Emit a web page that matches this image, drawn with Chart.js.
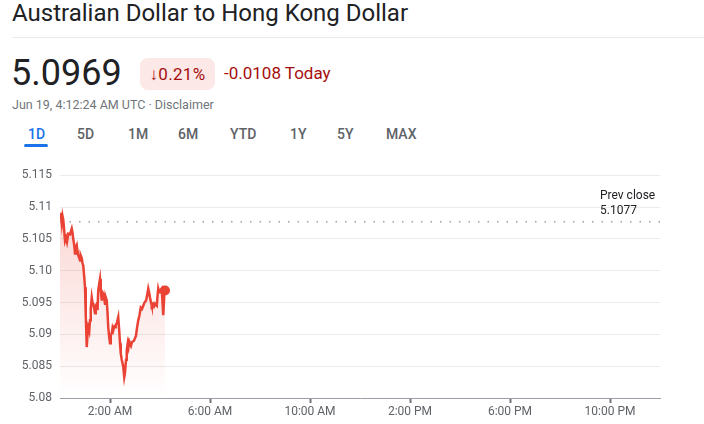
<!DOCTYPE html>
<html lang="en">
<head>
  <meta charset="UTF-8">
  <title>AUD to HKD</title>
  <script src="https://cdn.jsdelivr.net/npm/chart.js"></script>
  <style>
    body { margin: 0; width: 704px; height: 424px; overflow: hidden; background: #fff; font-family: Roboto, Arial, sans-serif; position: relative; }
    .title { position: absolute; left: 12px; top: -1px; font-size: 24px; color: #202124; }
    .rule { position: absolute; left: 12px; right: 0; top: 37px; border-top: 1px solid #e8eaed; }
    .price { position: absolute; left: 11px; top: 52px; font-size: 36px; color: #202124; }
    .badge { position: absolute; left: 140px; top: 58px; width: 75px; height: 32px; border-radius: 8px; background: #fce8e6; color: #a50e0e; font-size: 17px; letter-spacing: 0.3px; line-height: 32px; text-align: center; }
    .change { position: absolute; left: 224px; top: 63px; font-size: 17px; color: #a50e0e; }
    .stamp { position: absolute; left: 12px; top: 97px; font-size: 12.5px; color: #70757a; }
    .tabs span { position: absolute; top: 126px; font-size: 14px; font-weight: 500; color: #5f6368; }
    .tabs span.on { color: #1a73e8; }
    .uline { position: absolute; left: 24px; top: 144px; width: 24px; height: 3px; border-radius: 2px; background: #1a73e8; }
    #wrap { position: absolute; left: 0; top: 160px; width: 704px; height: 264px; }
  </style>
</head>
<body>
  <div class="title">Australian Dollar to Hong Kong Dollar</div>
  <div class="rule"></div>
  <div class="price">5.0969</div>
  <div class="badge">&darr;0.21%</div>
  <div class="change">-0.0108 Today</div>
  <div class="stamp">Jun 19, 4:12:24 AM UTC · Disclaimer</div>
  <div class="tabs">
    <span class="on" style="left:28px">1D</span>
    <span style="left:77px">5D</span>
    <span style="left:128px">1M</span>
    <span style="left:178px">6M</span>
    <span style="left:230px">YTD</span>
    <span style="left:290px">1Y</span>
    <span style="left:337px">5Y</span>
    <span style="left:386px">MAX</span>
  </div>
  <div class="uline"></div>
  <div id="wrap"><canvas id="rateChart"></canvas></div>

  <script>
    // hours after midnight UTC
    const times = [
      0, 0.03, 0.07, 0.10, 0.13, 0.17, 0.20, 0.24, 0.28, 0.33, 0.40, 0.47, 0.50, 0.53, 0.57, 0.60,
      0.63, 0.67, 0.70, 0.73, 0.77, 0.80, 0.83, 0.87, 0.90, 0.93, 0.97, 1.00, 1.03, 1.07, 1.10, 1.13,
      1.17, 1.20, 1.23, 1.27, 1.30, 1.33, 1.37, 1.40, 1.43, 1.47, 1.50, 1.53, 1.57, 1.60, 1.63, 1.67,
      1.70, 1.73, 1.77, 1.80, 1.83, 1.87, 1.90, 1.93, 1.97, 2.00, 2.03, 2.07, 2.10, 2.13, 2.17, 2.20,
      2.23, 2.27, 2.30, 2.33, 2.37, 2.40, 2.43, 2.47, 2.50, 2.53, 2.57, 2.60, 2.64, 2.67, 2.71, 2.74,
      2.77, 2.80, 2.84, 2.88, 2.91, 2.96, 3.00, 3.04, 3.08, 3.13, 3.18, 3.23, 3.28, 3.33, 3.38, 3.44,
      3.48, 3.53, 3.57, 3.60, 3.64, 3.67, 3.72, 3.76, 3.80, 3.84, 3.87, 3.90, 3.93, 3.97, 4.00, 4.03,
      4.07, 4.10, 4.13, 4.17, 4.20
    ];
    const rates = [
      5.1082, 5.1091, 5.1075, 5.1086, 5.1080, 5.1062, 5.1047, 5.1052, 5.1045, 5.1058, 5.1057, 5.1066, 5.1060, 5.1050, 5.1040, 5.1027,
      5.1036, 5.1040, 5.1030, 5.1024, 5.1020, 5.1016, 5.1024, 5.1020, 5.1012, 5.1008, 5.0990, 5.0974, 5.0930, 5.0880, 5.0900, 5.0911,
      5.0905, 5.0922, 5.0940, 5.0958, 5.0950, 5.0948, 5.0940, 5.0933, 5.0945, 5.0948, 5.0938, 5.0969, 5.0980, 5.0987, 5.0970, 5.0953,
      5.0966, 5.0964, 5.0955, 5.0948, 5.0958, 5.0953, 5.0935, 5.0911, 5.0895, 5.0886, 5.0898, 5.0902, 5.0910, 5.0906, 5.0912, 5.0911,
      5.0915, 5.0917, 5.0922, 5.0927, 5.0905, 5.0886, 5.0870, 5.0860, 5.0855, 5.0849, 5.0833, 5.0840, 5.0860, 5.0875, 5.0886, 5.0880,
      5.0889, 5.0886, 5.0882, 5.0888, 5.0888, 5.0890, 5.0894, 5.0898, 5.0910, 5.0922, 5.0930, 5.0942, 5.0940, 5.0945, 5.0950, 5.0953,
      5.0960, 5.0972, 5.0965, 5.0958, 5.0950, 5.0945, 5.0948, 5.0944, 5.0948, 5.0946, 5.0945, 5.0960, 5.0972, 5.0966, 5.0966, 5.0970,
      5.0972, 5.0950, 5.0930, 5.0960, 5.0969
    ];
    const prevClose = 5.1077;

    const xTicks = [2, 6, 10, 14, 18, 22];
    const xTickLabels = ['2:00 AM', '6:00 AM', '10:00 AM', '2:00 PM', '6:00 PM', '10:00 PM'];
    const yTicks = [5.08, 5.085, 5.09, 5.095, 5.10, 5.105, 5.11, 5.115];
    const yTickLabels = ['5.08', '5.085', '5.09', '5.095', '5.10', '5.105', '5.11', '5.115'];

    const prevCloseLabel = {
      id: 'prevCloseLabel',
      afterDraw(chart) {
        const ctx = chart.ctx;
        const y = chart.scales.y.getPixelForValue(prevClose);
        ctx.save();
        ctx.fillStyle = '#202124';
        ctx.font = '12px Roboto, Arial, sans-serif';
        ctx.textAlign = 'left';
        ctx.textBaseline = 'alphabetic';
        ctx.fillText('Prev close', chart.chartArea.right - 60, y - 23);
        ctx.fillText(prevClose.toFixed(4), chart.chartArea.right - 60, y - 8);
        ctx.restore();
      }
    };

    const ctx = document.getElementById('rateChart').getContext('2d');
    new Chart(ctx, {
      type: 'line',
      data: {
        datasets: [
          {
            data: times.map((t, i) => ({ x: t, y: rates[i] })),
            borderColor: '#ea4335',
            borderWidth: 2.5,
            tension: 0,
            fill: 'start',
            backgroundColor: (c) => {
              const area = c.chart.chartArea;
              if (!area) return 'rgba(234,67,53,0.1)';
              const g = c.chart.ctx.createLinearGradient(0, area.top, 0, area.bottom);
              g.addColorStop(0, 'rgba(234,67,53,0.25)');
              g.addColorStop(1, 'rgba(234,67,53,0)');
              return g;
            },
            pointRadius: (c) => c.dataIndex === rates.length - 1 ? 5 : 0,
            pointBackgroundColor: '#ea4335',
            pointBorderWidth: 0
          },
          {
            data: [{ x: 0, y: prevClose }, { x: 24, y: prevClose }],
            borderColor: '#9aa0a6',
            borderWidth: 1.5,
            borderDash: [1.5, 8],
            pointRadius: 0,
            fill: false
          }
        ]
      },
      options: {
        responsive: true,
        maintainAspectRatio: false,
        animation: false,
        layout: { padding: { top: 14, right: 44, left: 0, bottom: 0 } },
        plugins: { legend: { display: false }, tooltip: { enabled: false } },
        scales: {
          x: {
            type: 'linear',
            min: 0,
            max: 24,
            afterBuildTicks: (scale) => { scale.ticks = xTicks.map(v => ({ value: v })); },
            afterFit: (scale) => { scale.height = 26; },
            ticks: {
              autoSkip: false,
              maxRotation: 0,
              padding: 2,
              color: '#5f6368',
              font: { family: 'Roboto, Arial, sans-serif', size: 12 },
              callback: (v) => xTickLabels[xTicks.indexOf(v)]
            },
            grid: { drawOnChartArea: false, drawTicks: true, tickLength: 5, tickWidth: 2, tickColor: '#70757a' },
            border: { color: '#9aa0a6', width: 1 }
          },
          y: {
            min: 5.08,
            max: 5.115,
            afterBuildTicks: (scale) => { scale.ticks = yTicks.map(v => ({ value: v })); },
            afterFit: (scale) => { scale.width = 60; },
            ticks: {
              padding: 8,
              color: '#5f6368',
              font: { family: 'Roboto, Arial, sans-serif', size: 12 },
              callback: (v) => yTickLabels[yTicks.findIndex(t => Math.abs(t - v) < 1e-6)]
            },
            grid: { color: '#ebebeb', drawTicks: false },
            border: { display: false }
          }
        }
      },
      plugins: [prevCloseLabel]
    });
  </script>
</body>
</html>
